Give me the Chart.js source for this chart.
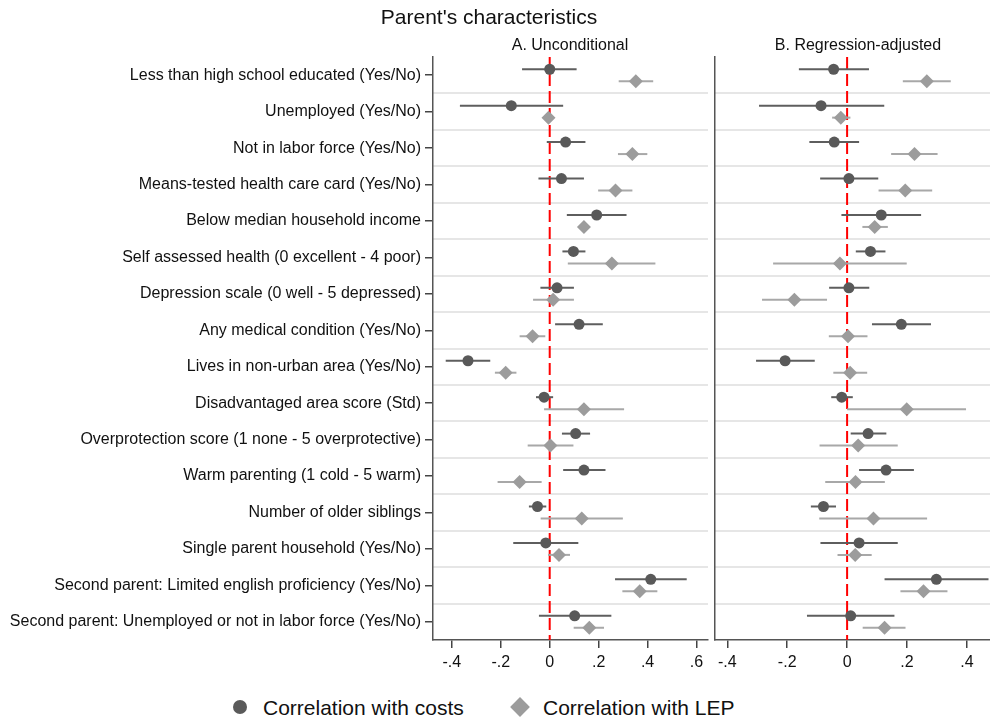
<!DOCTYPE html>
<html>
<head>
<meta charset="utf-8">
<title>Parent's characteristics</title>
<script src="https://cdn.jsdelivr.net/npm/chart.js@4.4.1/dist/chart.umd.min.js"></script>
<style>
  html, body { margin: 0; padding: 0; background: #fff; }
  #fig { position: relative; width: 990px; height: 719px; overflow: hidden; background: #fff;
         font-family: 'Liberation Sans', Arial, Helvetica, sans-serif; color: #111; }
  #fig canvas { position: absolute; top: 0; }
  .txt { position: absolute; white-space: nowrap; }
  .mark { position: absolute; }
</style>
</head>
<body>
<div id="fig">
  <canvas id="panelA" width="712" height="690" style="left:0px"></canvas>
  <canvas id="panelB" width="278" height="690" style="left:712px"></canvas>

  <div class="txt" style="left:289px;width:400px;top:6px;font-size:21px;line-height:21px;text-align:center;">Parent's characteristics</div>
  <div class="txt" style="left:470px;width:200px;top:37px;font-size:16px;line-height:16px;text-align:center;">A. Unconditional</div>
  <div class="txt" style="left:758px;width:200px;top:37px;font-size:16px;line-height:16px;text-align:center;">B. Regression-adjusted</div>

  <!-- legend -->
  <div class="mark" style="left:233px;top:700px;width:14px;height:14px;border-radius:50%;background:#5a5a5a;"></div>
  <div class="txt" style="left:263px;top:697px;font-size:21px;line-height:21px;">Correlation with costs</div>
  <div class="mark" style="left:513px;top:700px;width:14px;height:14px;background:#9c9c9c;transform:rotate(45deg);"></div>
  <div class="txt" style="left:543px;top:697px;font-size:21px;line-height:21px;">Correlation with LEP</div>
</div>

<script>
// Parent characteristics (one row each, top to bottom)
const categories = [
  "Less than high school educated (Yes/No)",
  "Unemployed (Yes/No)",
  "Not in labor force (Yes/No)",
  "Means-tested health care card (Yes/No)",
  "Below median household income",
  "Self assessed health (0 excellent - 4 poor)",
  "Depression scale (0 well - 5 depressed)",
  "Any medical condition (Yes/No)",
  "Lives in non-urban area (Yes/No)",
  "Disadvantaged area score (Std)",
  "Overprotection score (1 none - 5 overprotective)",
  "Warm parenting (1 cold - 5 warm)",
  "Number of older siblings",
  "Single parent household (Yes/No)",
  "Second parent: Limited english proficiency (Yes/No)",
  "Second parent: Unemployed or not in labor force (Yes/No)"
];

// A. Unconditional — correlation with costs (estimate, 95% CI)
const costsA     = [0.000, -0.157, 0.065, 0.048, 0.192, 0.097, 0.030, 0.120, -0.334, -0.023, 0.106, 0.140, -0.050, -0.016, 0.413, 0.102];
const costsALow  = [-0.113, -0.367, -0.012, -0.046, 0.070, 0.052, -0.038, 0.022, -0.425, -0.056, 0.050, 0.055, -0.085, -0.149, 0.267, -0.044];
const costsAHigh = [0.110, 0.055, 0.146, 0.140, 0.314, 0.146, 0.099, 0.217, -0.243, 0.014, 0.165, 0.228, -0.014, 0.117, 0.560, 0.252];

// A. Unconditional — correlation with LEP
const lepA     = [0.352, -0.005, 0.338, 0.269, 0.140, 0.254, 0.014, -0.070, -0.180, 0.140, 0.003, -0.123, 0.131, 0.038, 0.368, 0.162];
const lepALow  = [0.282, -0.015, 0.279, 0.198, 0.125, 0.074, -0.068, -0.123, -0.224, -0.023, -0.090, -0.213, -0.037, -0.007, 0.297, 0.098];
const lepAHigh = [0.423, 0.005, 0.399, 0.338, 0.155, 0.432, 0.099, -0.018, -0.136, 0.304, 0.097, -0.033, 0.299, 0.083, 0.440, 0.222];

// B. Regression-adjusted — correlation with costs
const costsB     = [-0.045, -0.087, -0.043, 0.006, 0.114, 0.078, 0.006, 0.181, -0.207, -0.018, 0.070, 0.130, -0.079, 0.040, 0.298, 0.012];
const costsBLow  = [-0.161, -0.294, -0.126, -0.090, -0.019, 0.029, -0.060, 0.083, -0.304, -0.053, 0.012, 0.040, -0.121, -0.089, 0.125, -0.134];
const costsBHigh = [0.073, 0.124, 0.040, 0.104, 0.247, 0.128, 0.074, 0.280, -0.108, 0.019, 0.131, 0.223, -0.037, 0.169, 0.472, 0.158];

// B. Regression-adjusted — correlation with LEP
const lepB     = [0.266, -0.021, 0.225, 0.194, 0.092, -0.024, -0.176, 0.003, 0.010, 0.199, 0.037, 0.028, 0.088, 0.027, 0.255, 0.125];
const lepBLow  = [0.186, -0.050, 0.147, 0.105, 0.051, -0.247, -0.284, -0.061, -0.046, 0.000, -0.092, -0.073, -0.093, -0.032, 0.178, 0.052];
const lepBHigh = [0.346, 0.011, 0.302, 0.284, 0.136, 0.199, -0.067, 0.068, 0.067, 0.397, 0.169, 0.126, 0.267, 0.082, 0.335, 0.195];

// Axis ticks
const tickValuesA = [-0.4, -0.2, 0, 0.2, 0.4, 0.6];
const tickLabelsA = ["-.4", "-.2", "0", ".2", ".4", ".6"];
const tickValuesB = [-0.4, -0.2, 0, 0.2, 0.4];
const tickLabelsB = ["-.4", "-.2", "0", ".2", ".4"];
const rangeA = [-0.477, 0.647];
const rangeB = [-0.441, 0.477];
const zeroValue = 0;

// ---- drawing ----
const FONT = "'Liberation Sans', Arial, Helvetica, sans-serif";
Chart.defaults.font.family = FONT;
const ROW_SHIFT = 0.164;   // vertical offset of the two series inside a row

// horizontal confidence-interval whiskers, drawn just beneath each point series
const errorBars = {
  id: 'errorBars',
  beforeDatasetDraw(chart, args) {
    const ds = chart.data.datasets[args.index];
    if (!ds.ciLow) return;
    const xs = chart.scales.x, ys = chart.scales.y, ctx = chart.ctx;
    ctx.save();
    ctx.strokeStyle = ds.ciColor;
    ctx.lineWidth = ds.ciWidth;
    ds.data.forEach((p, i) => {
      const y = ys.getPixelForValue(p.y);
      ctx.beginPath();
      ctx.moveTo(xs.getPixelForValue(ds.ciLow[i]), y);
      ctx.lineTo(xs.getPixelForValue(ds.ciHigh[i]), y);
      ctx.stroke();
    });
    ctx.restore();
  }
};

function buildPanel(id, cfg) {
  const n = categories.length;
  return new Chart(document.getElementById(id), {
    type: 'scatter',
    plugins: [errorBars],
    data: {
      datasets: [
        {
          label: 'zero',
          data: [{ x: zeroValue, y: 0.5 }, { x: zeroValue, y: n + 0.5 }],
          showLine: true, borderColor: '#ff0000', borderWidth: 2, borderDash: [12, 5],
          pointRadius: 0, order: 3, xAxisID: 'x', yAxisID: 'y'
        },
        {
          label: 'Correlation with costs',
          data: cfg.costs.map((v, i) => ({ x: v, y: i + 1 - ROW_SHIFT })),
          ciLow: cfg.costsLow, ciHigh: cfg.costsHigh, ciColor: '#5e5e5e', ciWidth: 2,
          pointStyle: 'circle', pointRadius: 5.5, pointBackgroundColor: '#595959',
          pointBorderWidth: 0, order: 2, xAxisID: 'x', yAxisID: 'y'
        },
        {
          label: 'Correlation with LEP',
          data: cfg.lep.map((v, i) => ({ x: v, y: i + 1 + ROW_SHIFT })),
          ciLow: cfg.lepLow, ciHigh: cfg.lepHigh, ciColor: '#a8a8a8', ciWidth: 2,
          pointStyle: 'rectRot', pointRadius: 7, pointBackgroundColor: '#9c9c9c',
          pointBorderWidth: 0, order: 1, xAxisID: 'x', yAxisID: 'y'
        }
      ]
    },
    options: {
      responsive: false,
      animation: false,
      events: [],
      devicePixelRatio: 1,
      layout: { autoPadding: false, padding: { top: 57, right: cfg.padRight, bottom: 10, left: 0 } },
      plugins: { legend: { display: false }, title: { display: false }, tooltip: { enabled: false } },
      scales: {
        x: {
          type: 'linear', position: 'bottom', bounds: 'data',
          min: cfg.range[0], max: cfg.range[1],
          afterBuildTicks: s => { s.ticks = cfg.tickValues.map(v => ({ value: v })); },
          ticks: { callback: (v, i) => cfg.tickLabels[i], font: { size: 16 }, color: '#111',
                   padding: 5, maxRotation: 0, autoSkip: false },
          grid: { drawOnChartArea: false, tickLength: 8, color: '#444', lineWidth: 1.5 },
          border: { display: true, color: '#555', width: 1.5 },
          afterFit: s => { s.height = 40; }
        },
        y: {
          type: 'linear', position: 'left', reverse: true, bounds: 'data',
          min: 0.5, max: n + 0.5,
          afterBuildTicks: s => { s.ticks = categories.map((_, i) => ({ value: i + 1 })); },
          ticks: { display: cfg.showLabels, callback: (v, i) => categories[i], font: { size: 16 },
                   color: '#111', padding: 4, autoSkip: false },
          grid: { drawOnChartArea: false, drawTicks: cfg.showLabels, tickLength: 8, color: '#444', lineWidth: 1.5 },
          border: { display: true, color: '#555', width: 1.5 },
          afterFit: s => { s.width = cfg.yWidth; }
        },
        ySep: {
          type: 'linear', position: 'left', reverse: true, bounds: 'data',
          min: 0.5, max: n + 0.5,
          afterBuildTicks: s => { s.ticks = categories.slice(1).map((_, i) => ({ value: i + 1.5 })); },
          ticks: { display: false },
          grid: { drawOnChartArea: true, drawTicks: false, color: '#e6e6e6', lineWidth: 2 },
          border: { display: false },
          afterFit: s => { s.width = 0; }
        }
      }
    }
  });
}

buildPanel('panelA', {
  costs: costsA, costsLow: costsALow, costsHigh: costsAHigh,
  lep: lepA, lepLow: lepALow, lepHigh: lepAHigh,
  range: rangeA, tickValues: tickValuesA, tickLabels: tickLabelsA,
  showLabels: true, yWidth: 433, padRight: 4
});

buildPanel('panelB', {
  costs: costsB, costsLow: costsBLow, costsHigh: costsBHigh,
  lep: lepB, lepLow: lepBLow, lepHigh: lepBHigh,
  range: rangeB, tickValues: tickValuesB, tickLabels: tickLabelsB,
  showLabels: false, yWidth: 3, padRight: 0
});
</script>
</body>
</html>
